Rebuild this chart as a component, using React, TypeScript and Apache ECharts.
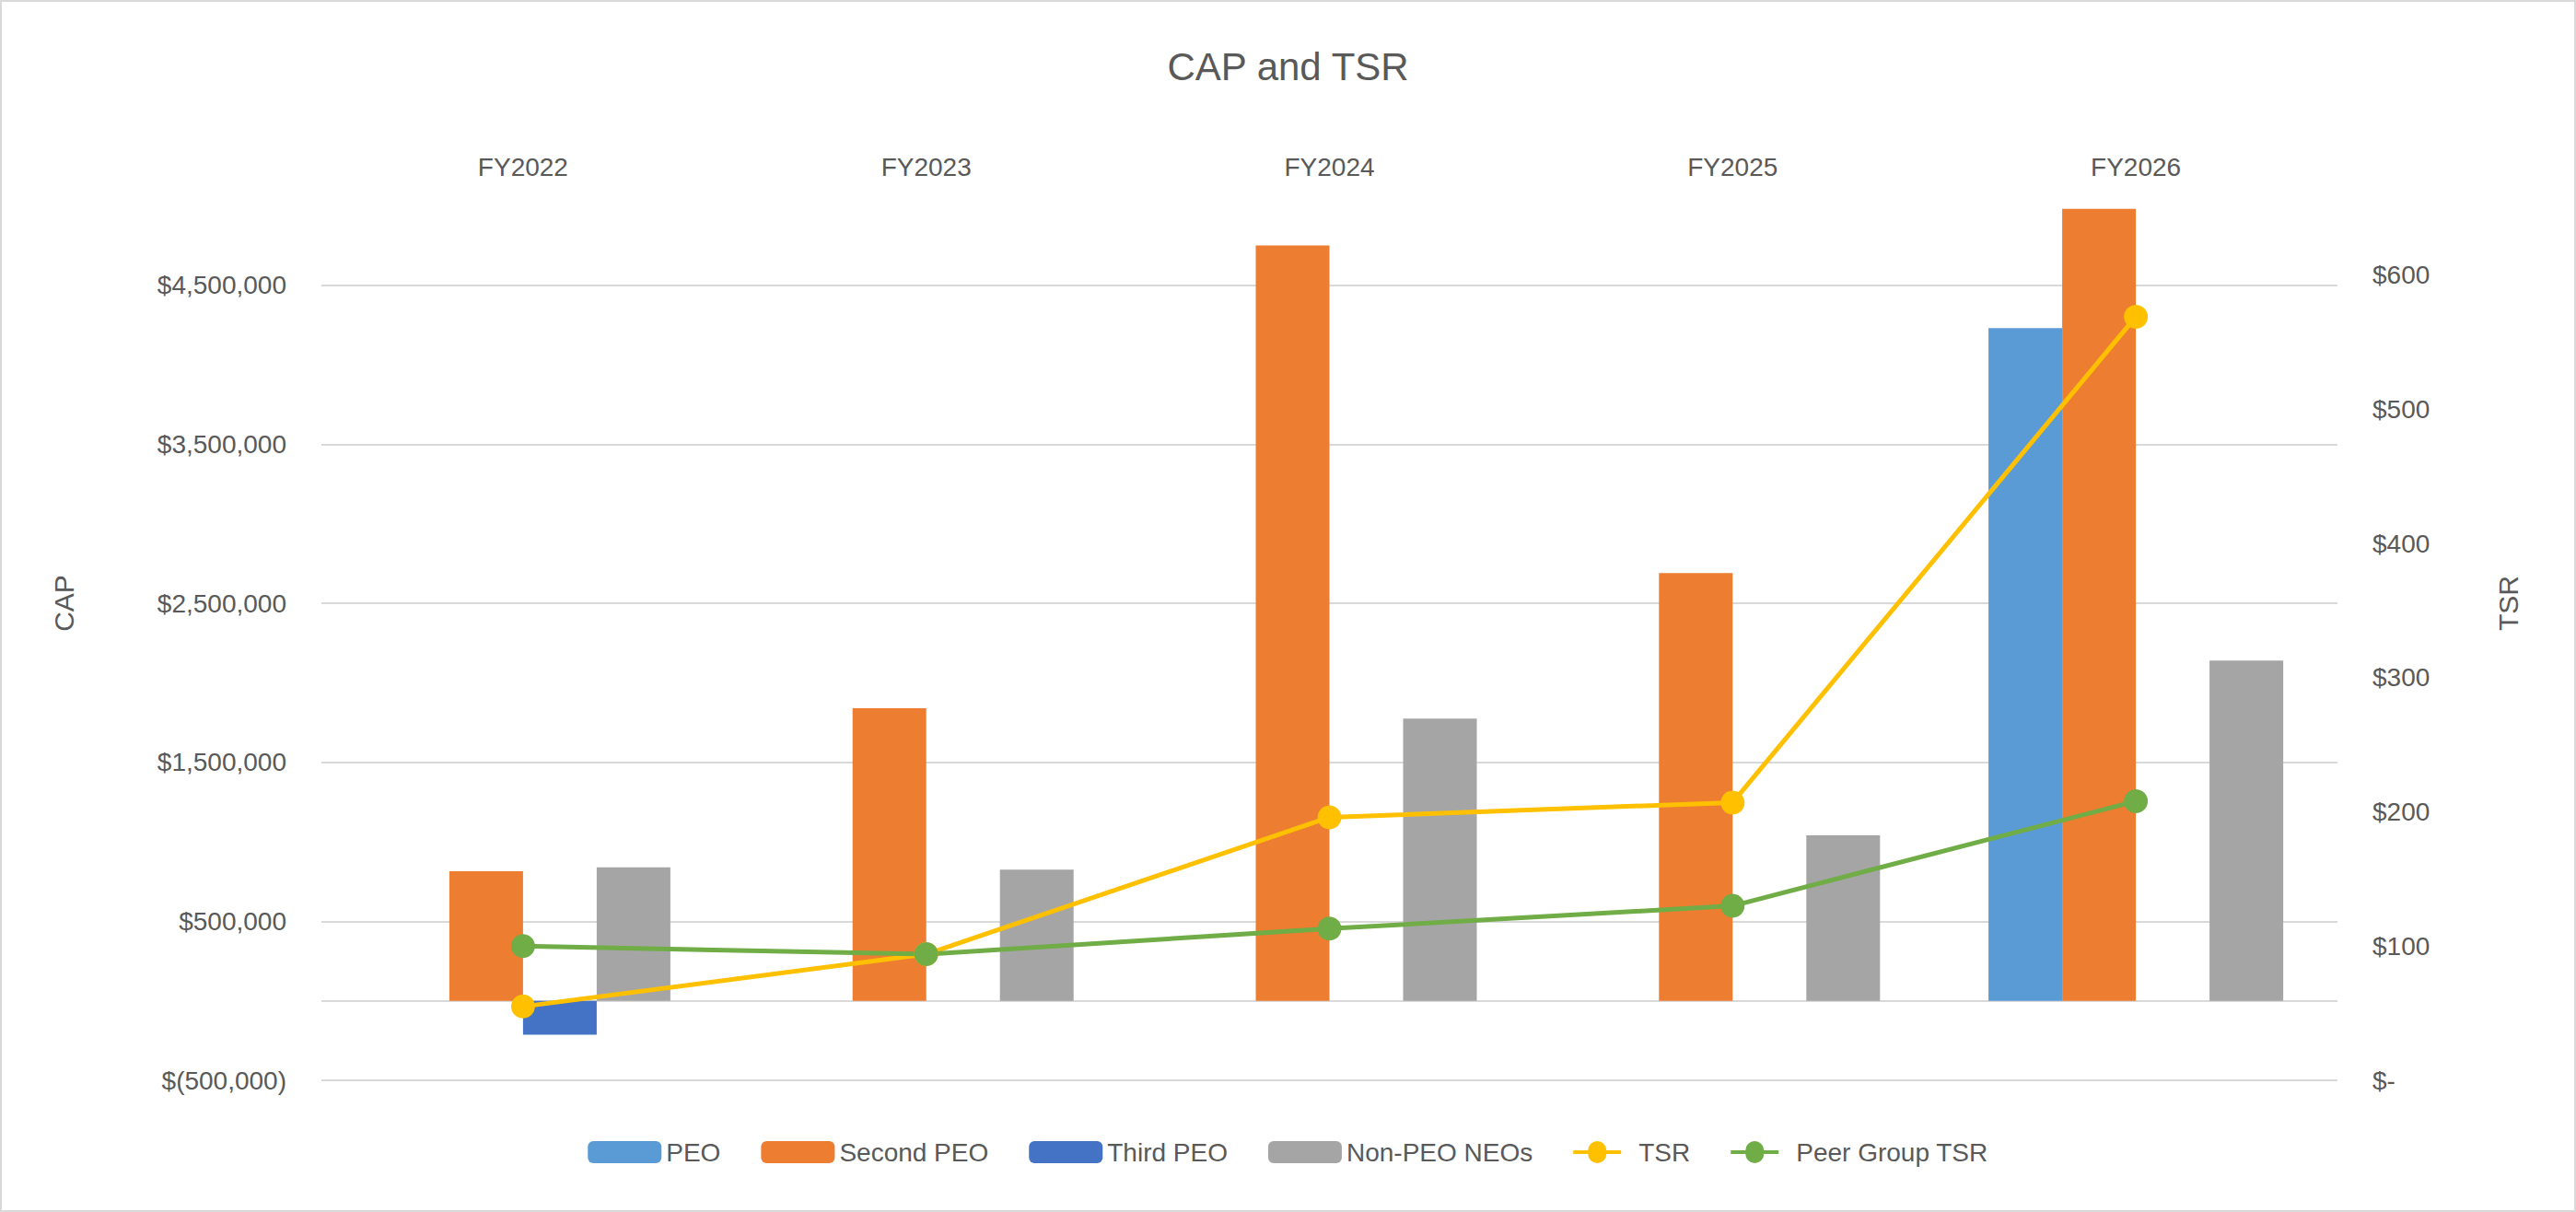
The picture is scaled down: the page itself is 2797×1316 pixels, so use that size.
import React, { useEffect, useRef } from "react";
import * as echarts from "echarts";

const years = ["FY2022", "FY2023", "FY2024", "FY2025", "FY2026"];
const peo = [null, null, null, null, 4230000];
const secondPeo = [815000, 1840000, 4750000, 2690000, 4980000];
const thirdPeo = [-214000, null, null, null, null];
const nonPeoNeos = [840000, 825000, 1775000, 1040000, 2140000];
const tsr = [55, 94, 196, 207, 569];
const peerTsr = [100, 94, 113, 130, 208];
const capGridLines = [-500000, 0, 500000, 1500000, 2500000, 3500000, 4500000];

const FONT = "'Liberation Sans', Arial, sans-serif";
const TEXT = "#595959";

const App: React.FC = () => {
  const chartRef = useRef<HTMLDivElement>(null);

  useEffect(() => {
    if (!chartRef.current) return;
    const chart = echarts.init(chartRef.current, undefined, { renderer: "svg" });

    const bar = (name: string, data: any[], color: string, extra: any = {}) => ({
      name,
      type: "bar",
      data,
      barWidth: 80,
      barGap: "0%",
      itemStyle: { color },
      ...extra,
    });

    const line = (name: string, data: number[], color: string) => ({
      name,
      type: "line",
      yAxisIndex: 1,
      data,
      symbol: "circle",
      symbolSize: 26,
      lineStyle: { color, width: 5 },
      itemStyle: { color },
    });

    chart.setOption({
      animation: false,
      textStyle: { fontFamily: FONT },
      title: {
        text: "CAP and TSR",
        left: "center",
        top: 44,
        textStyle: { fontSize: 42, fontWeight: "normal", color: TEXT, fontFamily: FONT },
      },
      legend: {
        bottom: 44,
        left: "center",
        itemWidth: 80,
        itemHeight: 24,
        itemGap: 44,
        textStyle: { fontSize: 28, color: TEXT },
        data: [
          "PEO",
          "Second PEO",
          "Third PEO",
          "Non-PEO NEOs",
          { name: "TSR", icon: "path://M0,11H16A10,10 0 1,1 36,11H52V15H36A10,10 0 1,1 16,15H0Z" },
          { name: "Peer Group TSR", icon: "path://M0,11H16A10,10 0 1,1 36,11H52V15H36A10,10 0 1,1 16,15H0Z" },
        ],
      },
      grid: { left: 347, right: 2797 - 2540, top: 135, bottom: 1316 - 1175 },
      xAxis: {
        type: "category",
        data: years,
        position: "top",
        axisLine: { show: false },
        axisTick: { show: false },
        axisLabel: { inside: true, margin: 30, fontSize: 28, color: TEXT, verticalAlign: "top" },
      },
      yAxis: [
        {
          type: "value",
          name: "CAP",
          nameLocation: "middle",
          nameGap: 265,
          nameTextStyle: { fontSize: 30, color: TEXT },
          min: -500000,
          max: 5500000,
          interval: 500000,
          splitLine: { show: false },
          axisLabel: {
            fontSize: 28,
            color: TEXT,
            margin: 38,
            formatter: (v: number) => {
              if (v === -500000) return "$(500,000)";
              if (v % 1000000 === 0 || v > 4500000) return "";
              return "$" + v.toLocaleString("en-US");
            },
          },
        },
        {
          type: "value",
          name: "TSR",
          nameLocation: "middle",
          nameGap: 170,
          nameRotate: 90,
          nameTextStyle: { fontSize: 30, color: TEXT },
          min: 0,
          max: 711,
          interval: 100,
          splitLine: { show: false },
          axisLabel: {
            fontSize: 28,
            color: TEXT,
            margin: 38,
            showMaxLabel: false,
            formatter: (v: number) => (v > 600 ? "" : v === 0 ? "$-" : "$" + v),
          },
        },
      ],
      series: [
        bar("PEO", peo, "#5b9bd5", {
          markLine: {
            silent: true,
            symbol: "none",
            label: { show: false },
            lineStyle: { color: "#d9d9d9", width: 2, type: "solid" },
            data: capGridLines.map((v) => ({ yAxis: v })),
            z: 0,
          },
        }),
        bar("Second PEO", secondPeo, "#ed7d31"),
        bar("Third PEO", thirdPeo, "#4472c4"),
        bar("Non-PEO NEOs", nonPeoNeos, "#a5a5a5"),
        line("TSR", tsr, "#ffc000"),
        line("Peer Group TSR", peerTsr, "#70ad47"),
      ],
    });

    return () => chart.dispose();
  }, []);

  return (
    <div
      ref={chartRef}
      style={{
        position: "fixed",
        left: 0,
        top: 0,
        width: 2797,
        height: 1316,
        boxSizing: "border-box",
        border: "2px solid #d9d9d9",
        background: "#fff",
      }}
    />
  );
};

export default App;
